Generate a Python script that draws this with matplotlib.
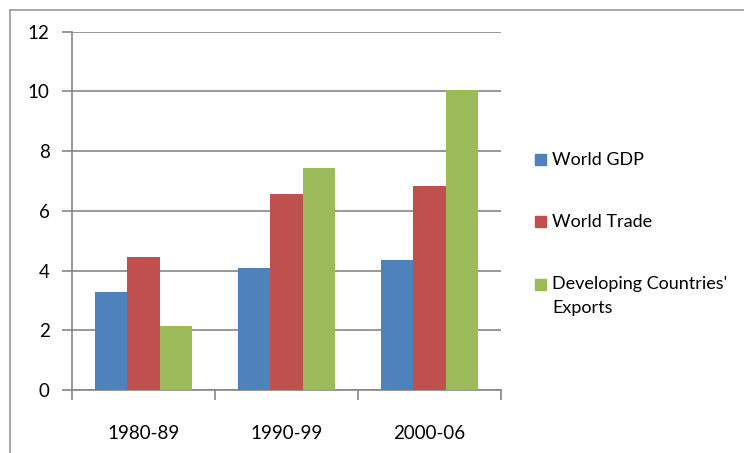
import matplotlib
matplotlib.use('Agg')
import matplotlib.pyplot as plt
import numpy as np
from matplotlib.lines import Line2D
from matplotlib.patches import Rectangle

periods = ['1980-89', '1990-99', '2000-06']
world_gdp = [3.29, 4.07, 4.34]
world_trade = [4.44, 6.58, 6.84]
dev_exports = [2.14, 7.42, 10.04]
series_names = ['World GDP', 'World Trade', "Developing Countries'\nExports"]
colours = ['#4F81BD', '#C0504D', '#9BBB59']

plt.rcParams['font.family'] = ['Lato', 'DejaVu Sans']

fig = plt.figure(figsize=(7.44, 4.53), dpi=100)
ax = fig.add_axes([72 / 744, 63 / 453, 429 / 744, 358.3 / 453])

x = np.arange(len(periods))
w = 0.224
for i, vals in enumerate([world_gdp, world_trade, dev_exports]):
    ax.bar(x + (i - 1) * w, vals, width=w, color=colours[i], zorder=3)

ax.set_xlim(-0.5, 2.5)
ax.set_ylim(0, 12)
ax.set_yticks(range(0, 13, 2))
ax.grid(axis='y', color='#868686', linewidth=1.2, zorder=0)
ax.tick_params(axis='y', length=7, width=1.2, color='#868686', pad=9, labelsize=13.5)

ax.set_xticks(x)
ax.set_xticklabels(periods)
ax.set_xticks([-0.5, 0.5, 1.5, 2.5], minor=True)
ax.tick_params(axis='x', which='major', length=0, pad=25, labelsize=13.5)
ax.tick_params(axis='x', which='minor', length=7, width=1.2, color='#868686')

for s in ['top', 'right']:
    ax.spines[s].set_visible(False)
for s in ['left', 'bottom']:
    ax.spines[s].set_color('#868686')
    ax.spines[s].set_linewidth(1.2)

# legend drawn by hand so the square sits on the first line
leg_y = [160, 222, 285]
for name, c, yy in zip(series_names, colours, leg_y):
    fig.add_artist(Rectangle((535 / 744, (453 - yy - 5) / 453), 11 / 744, 11 / 453,
                             color=c, transform=fig.transFigure))
    if '\n' in name:
        fig.text(552 / 744, (453 - yy + 9) / 453, name, fontsize=13, va='top', linespacing=1.6)
    else:
        fig.text(552 / 744, (453 - yy) / 453, name, fontsize=13, va='center')

# outer chart frame
fig.add_artist(Line2D([10 / 744, 10 / 744], [0, 1 - 10 / 453], color='#a0a0a0', lw=1.3))
fig.add_artist(Line2D([10 / 744, 1], [1 - 10 / 453, 1 - 10 / 453], color='#a0a0a0', lw=1.3))

fig.savefig('out.png', dpi=100)
